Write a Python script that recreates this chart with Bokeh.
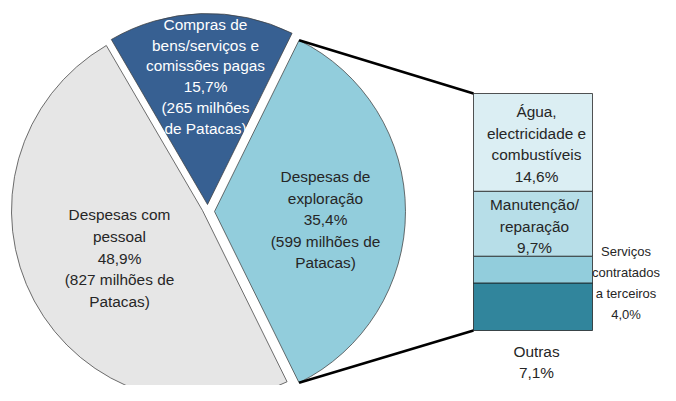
import numpy as np
from bokeh.plotting import figure
from bokeh.models import Range1d
from bokeh.core.properties import value
from bokeh.embed import file_html
from bokeh.resources import INLINE

# ---------------- data ----------------
pie_names = ["Despesas de\nexploração", "Compras de\nbens/serviços e\ncomissões pagas", "Despesas com\npessoal"]
pie_pct = [35.4, 15.7, 48.9]
pie_mop = [599, 265, 827]
pie_money_fmt = ["({} milhões de\nPatacas)", "({} milhões\nde Patacas)", "({} milhões de\nPatacas)"]

bar_names = ["Outras", "Serviços\ncontratados\na terceiros", "Manutenção/\nreparação", "Água,\nelectricidade e\ncombustíveis"]
bar_pct = [7.1, 4.0, 9.7, 14.6]

# ---------------- styles / layout ----------------
pie_colors = ["#92CDDC", "#376092", "#E6E6E6"]
bar_colors = ["#31859C", "#92CDDC", "#B7DEE8", "#DBEEF3"]
pie_centers = [(215, 189), (208, 196), (203, 190)]
R = 191
# (x centre, y of first line in data units, line spacing)
pie_label_pos = [(326, 401 - 177, 21.5), (206, 401 - 25, 20.7), (120, 401 - 215, 21.75)]
pie_label_col = ["#262626", "white", "#262626"]
bar_left, bar_right, bar_bottom, bar_height = 474, 593, 70, 237
bar_label_pos = [(537, 401 - 352, 21), (626.5, 401 - 252, 21), (535, 401 - 205, 21.5), (537, 401 - 112, 21.7)]
bar_label_fs = ["15.4px", "13px", "15.4px", "15.4px"]

FONT = value("Liberation Sans")
FS = "15.4px"

OFF = 7
W, H = 660, 385
p = figure(width=W, height=H, x_range=Range1d(8 - OFF, 8 - OFF + W),
           y_range=Range1d(8 + OFF, 8 + OFF + H),
           output_backend="svg", toolbar_location=None, min_border=0)
p.axis.visible = False
p.grid.visible = False
p.outline_line_color = None
p.background_fill_color = "white"

# pie slices
start = -pie_pct[0] / 2 * 3.6
angles = []
for i, pct in enumerate(pie_pct):
    end = start + pct * 3.6
    angles.append((np.deg2rad(start), np.deg2rad(end)))
    cx, cy = pie_centers[i]
    p.wedge(x=[cx], y=[cy], radius=R, start_angle=[np.deg2rad(start)], end_angle=[np.deg2rad(end)],
            fill_color=pie_colors[i], line_color="#404040", line_width=0.75)
    start = end

# stacked bar
scale = bar_height / sum(bar_pct)
bottoms = bar_bottom + scale * np.concatenate([[0], np.cumsum(bar_pct)[:-1]])
tops = bar_bottom + scale * np.cumsum(bar_pct)
p.quad(left=[bar_left] * 4, right=[bar_right] * 4, bottom=list(bottoms), top=list(tops),
       fill_color=bar_colors, line_color="#1a1a1a", line_width=0.75)

# connector lines
cx, cy = pie_centers[0]
a0, a1 = angles[0]
p.segment(x0=[cx + R * np.cos(a1), cx + R * np.cos(a0)],
          y0=[cy + R * np.sin(a1), cy + R * np.sin(a0)],
          x1=[bar_left, bar_left], y1=[tops[-1], bottoms[0]],
          line_color="black", line_width=2.5)

def fmt(v):
    return f"{v:.1f}".replace(".", ",") + "%"

def draw_lines(txt, x, y0, dy, color, fs):
    lines = txt.split("\n")
    ys = [y0 - k * dy for k in range(len(lines))]
    p.text(x=[x] * len(lines), y=ys, text=lines, text_align="center", text_baseline="middle",
           text_font=FONT, text_font_size=fs, text_color=color)

# pie labels
for i in range(3):
    txt = pie_names[i] + "\n" + fmt(pie_pct[i]) + "\n" + pie_money_fmt[i].format(pie_mop[i])
    x, y0, dy = pie_label_pos[i]
    draw_lines(txt, x, y0, dy, pie_label_col[i], FS)

# bar labels
for i in range(4):
    txt = bar_names[i] + "\n" + fmt(bar_pct[i])
    x, y0, dy = bar_label_pos[i]
    draw_lines(txt, x, y0, dy, "#262626", bar_label_fs[i])

open("out.html", "w").write(file_html(p, INLINE))
